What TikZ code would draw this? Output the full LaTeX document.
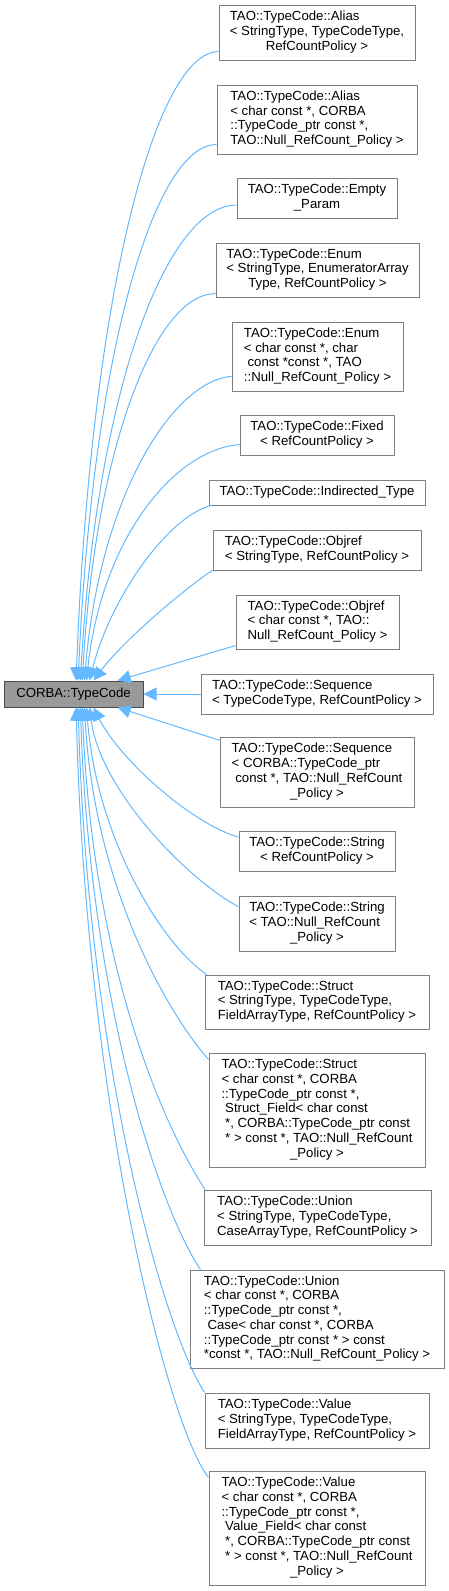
\documentclass[tikz,border=0pt]{standalone}
\usepackage{fontspec}
\setmainfont{Liberation Sans}
\usetikzlibrary{arrows.meta}
\definecolor{edgeblue}{HTML}{63B8FF}
\definecolor{boxline}{HTML}{7F7F7F}
\definecolor{basefill}{HTML}{999999}
\newcommand{\tlines}[1]{\begin{tabular}{@{}l@{}}#1\end{tabular}}
\newcommand{\centrow}[1]{\multicolumn{1}{@{}c@{}}{#1}}

\begin{document}
\begin{tikzpicture}[x=1pt,y=-1pt,
  cls/.style={draw=boxline,line width=1pt,fill=white,inner sep=0pt,font=\fontsize{13.2}{14.7}\selectfont},
  basecls/.style={cls,draw=gray!60!black,fill=basefill},
  inh/.style={edgeblue,line width=1pt,-{Triangle[length=13pt,width=13pt]}}]
\path[use as bounding box] (0,0) rectangle (449,1591);
% base class
\node[basecls,minimum width=139pt,minimum height=26pt] (base) at (73.5,694) {CORBA::TypeCode};
% derived classes
\node[cls,minimum width=196pt,minimum height=55pt] (alias1) at (317,32.5) {\tlines{TAO::TypeCode::Alias\\< StringType, TypeCodeType,\\\centrow{RefCountPolicy >}}};
\node[cls,minimum width=200pt,minimum height=69pt] (alias2) at (317,119.5) {\tlines{TAO::TypeCode::Alias\\< char const *, CORBA\\::TypeCode\_ptr const *,\\\centrow{TAO::Null\_RefCount\_Policy >}}};
\node[cls,minimum width=160pt,minimum height=40pt] (empty) at (317,198) {\tlines{TAO::TypeCode::Empty\\\centrow{\_Param}}};
\node[cls,minimum width=203pt,minimum height=54pt] (enum1) at (317.5,270) {\tlines{TAO::TypeCode::Enum\\< StringType, EnumeratorArray\\\centrow{Type, RefCountPolicy >}}};
\node[cls,minimum width=171pt,minimum height=69pt] (enum2) at (317.5,356.5) {\tlines{TAO::TypeCode::Enum\\< char const *, char\\\ const *const *, TAO\\\centrow{::Null\_RefCount\_Policy >}}};
\node[cls,minimum width=154pt,minimum height=40pt] (fixed) at (317,435) {\tlines{TAO::TypeCode::Fixed\\\centrow{< RefCountPolicy >}}};
\node[cls,minimum width=216pt,minimum height=25pt] (indir) at (317,492.5) {TAO::TypeCode::Indirected\_Type};
\node[cls,minimum width=208pt,minimum height=40pt] (objref1) at (317,550) {\tlines{TAO::TypeCode::Objref\\\centrow{< StringType, RefCountPolicy >}}};
\node[cls,minimum width=163pt,minimum height=54pt] (objref2) at (317.5,622) {\tlines{TAO::TypeCode::Objref\\< char const *, TAO::\\\centrow{Null\_RefCount\_Policy >}}};
\node[cls,minimum width=232pt,minimum height=40pt] (seq1) at (317,694) {\tlines{TAO::TypeCode::Sequence\\\centrow{< TypeCodeType, RefCountPolicy >}}};
\node[cls,minimum width=194pt,minimum height=70pt] (seq2) at (317,772) {\tlines{TAO::TypeCode::Sequence\\< CORBA::TypeCode\_ptr\\\ const *, TAO::Null\_RefCount\\\centrow{\_Policy >}}};
\node[cls,minimum width=156pt,minimum height=40pt] (string1) at (317,851) {\tlines{TAO::TypeCode::String\\\centrow{< RefCountPolicy >}}};
\node[cls,minimum width=156pt,minimum height=55pt] (string2) at (317,923.5) {\tlines{TAO::TypeCode::String\\< TAO::Null\_RefCount\\\centrow{\_Policy >}}};
\node[cls,minimum width=224pt,minimum height=54pt] (struct1) at (317,1002) {\tlines{TAO::TypeCode::Struct\\< StringType, TypeCodeType,\\\centrow{FieldArrayType, RefCountPolicy >}}};
\node[cls,minimum width=216pt,minimum height=114pt] (struct2) at (317,1110) {\tlines{TAO::TypeCode::Struct\\< char const *, CORBA\\::TypeCode\_ptr const *,\\\ Struct\_Field< char const\\\ *, CORBA::TypeCode\_ptr const\\\ * > const *, TAO::Null\_RefCount\\\centrow{\_Policy >}}};
\node[cls,minimum width=227pt,minimum height=55pt] (union1) at (317.5,1217.5) {\tlines{TAO::TypeCode::Union\\< StringType, TypeCodeType,\\\centrow{CaseArrayType, RefCountPolicy >}}};
\node[cls,minimum width=254pt,minimum height=98pt] (union2) at (317,1319) {\tlines{TAO::TypeCode::Union\\< char const *, CORBA\\::TypeCode\_ptr const *,\\\ Case< char const *, CORBA\\::TypeCode\_ptr const * > const\\\centrow{*const *, TAO::Null\_RefCount\_Policy >}}};
\node[cls,minimum width=224pt,minimum height=55pt] (value1) at (317,1420.5) {\tlines{TAO::TypeCode::Value\\< StringType, TypeCodeType,\\\centrow{FieldArrayType, RefCountPolicy >}}};
\node[cls,minimum width=216pt,minimum height=114pt] (value2) at (317,1528) {\tlines{TAO::TypeCode::Value\\< char const *, CORBA\\::TypeCode\_ptr const *,\\\ Value\_Field< char const\\\ *, CORBA::TypeCode\_ptr const\\\ * > const *, TAO::Null\_RefCount\\\centrow{\_Policy >}}};
% inheritance edges, from above
\draw[inh] (alias1.191) .. controls +(-64,0) and +(14,-378) .. (base.79);
\draw[inh] (alias2.194) .. controls +(-63,0) and +(14,-322) .. (base.71);
\draw[inh] (empty.185) .. controls +(-71,0) and +(16,-286) .. (base.63);
\draw[inh] (enum1.193) .. controls +(-60,0) and +(13,-233) .. (base.57);
\draw[inh] (enum2.193) .. controls +(-60,5) and +(15,-182) .. (base.51);
\draw[inh] (fixed.187) .. controls +(-65,5) and +(15,-142) .. (base.46);
\draw[inh] (indir.187) .. controls +(-45,12) and +(20,-80) .. (base.40);
\draw[inh] (objref1.191) .. controls +(-30,20) and +(30,-40) .. (base.34);
\draw[inh] (objref2.196) -- (base.17);
\draw[inh] (seq1) -- (base);
% inheritance edges, from below
\draw[inh] (seq2.162) -- (base.-17);
\draw[inh] (string1.170) .. controls +(-50,-15) and +(25,50) .. (base.-34);
\draw[inh] (string2.168) .. controls +(-55,-30) and +(10,80) .. (base.-40);
\draw[inh] (struct1.166) .. controls +(-45,-30) and +(10,130) .. (base.-46);
\draw[inh] (struct2.155) .. controls +(-40,-45) and +(10,180) .. (base.-51);
\draw[inh] (union1.166) .. controls +(-40,-60) and +(10,260) .. (base.-57);
\draw[inh] (union2.157) .. controls +(-40,-60) and +(10,300) .. (base.-63);
\draw[inh] (value1.166) .. controls +(-40,-60) and +(10,360) .. (base.-71);
\draw[inh] (value2.155) .. controls +(-40,-50) and +(10,400) .. (base.-79);
\end{tikzpicture}
\end{document}
